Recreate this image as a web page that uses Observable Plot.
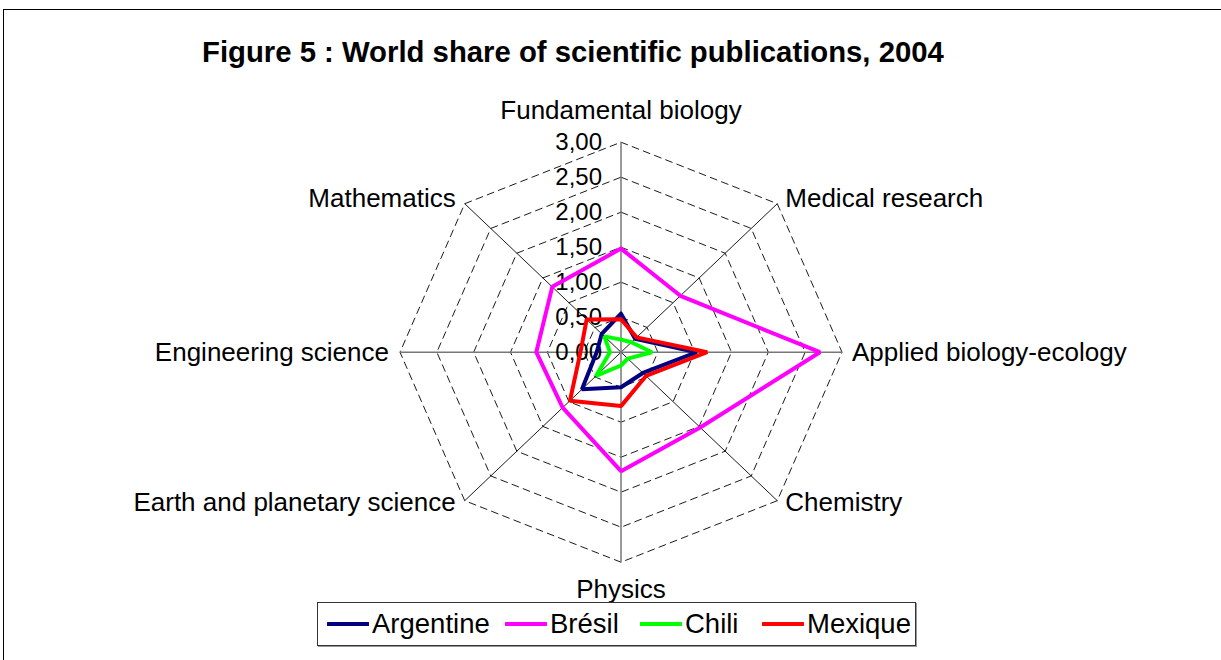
<!DOCTYPE html>
<html><head><meta charset="utf-8">
<script src="https://cdn.jsdelivr.net/npm/d3@7"></script>
<script src="https://cdn.jsdelivr.net/npm/@observablehq/plot@0.6"></script>
<style>
body{margin:0;background:#fff;font-family:"Liberation Sans",Arial,sans-serif;}
#wrap{position:relative;width:1221px;height:660px;overflow:hidden;background:#fff;}
#frame{position:absolute;left:3px;top:9px;width:1300px;height:700px;border:1px solid #000;}
#title{position:absolute;left:202px;top:37px;font-size:29.3px;font-weight:bold;line-height:29px;white-space:nowrap;color:#000;}
#chart{position:absolute;left:0;top:80px;}
#legend{position:absolute;left:317px;top:602px;width:597px;height:42px;border:1px solid #333;box-shadow:1px 1px 0 #999;font-size:27.5px;color:#000;background:#fff;}
#legend .item{position:absolute;top:0;height:42px;display:flex;align-items:center;white-space:nowrap;}
#legend svg{margin-right:3px;}
</style></head>
<body>
<div id="wrap">
<div id="frame"></div>
<div id="title">Figure 5 : World share of scientific publications, 2004</div>
<div id="chart"></div>
<div id="legend"></div>
</div>
<script>
const categories = ["Fundamental biology","Medical research","Applied biology-ecology","Chemistry","Physics","Earth and planetary science","Engineering science","Mathematics"];
const seriesNames = ["Argentine","Brésil","Chili","Mexique"];
const argentine = [0.55, 0.27, 1.03, 0.42, 0.50, 0.75, 0.33, 0.37];
const bresil    = [1.48, 1.14, 2.70, 1.52, 1.70, 1.12, 1.15, 1.32];
const chili     = [0.18, 0.20, 0.42, 0.13, 0.19, 0.48, 0.15, 0.32];
const mexique   = [0.47, 0.30, 1.17, 0.48, 0.77, 0.98, 0.55, 0.66];
const seriesColors = ["#000080","#FF00FF","#00FF00","#FF0000"];
const tickValues = [0, 0.5, 1, 1.5, 2, 2.5, 3];
const tickLabels = ["0,00","0,50","1,00","1,50","2,00","2,50","3,00"];

const seriesValues = [argentine, bresil, chili, mexique];
const n = categories.length;
const maxV = 3;
const ang = i => i * 2 * Math.PI / n;
const px = (r, i) => r * Math.sin(ang(i));
const py = (r, i) => r * Math.cos(ang(i));

const grid = [];
tickValues.filter(v => v > 0).forEach(v => {
  for (let i = 0; i <= n; i++) grid.push({level: v, x: px(v, i % n), y: py(v, i % n)});
});
const spokes = categories.map((c, i) => ({i, x1: 0, y1: 0, x2: px(maxV, i), y2: py(maxV, i)}));
const lines = [];
seriesValues.forEach((vals, s) => {
  for (let i = 0; i <= n; i++) lines.push({series: seriesNames[s], x: px(vals[i % n], i % n), y: py(vals[i % n], i % n)});
});
const labels = categories.map((c, i) => ({name: c, i, x: px(maxV, i), y: py(maxV, i)}));
const ticks = tickValues.map((v, k) => ({v, label: tickLabels[k]}));

const cx = 620.5, rx = 221, cy = 271.7, ry = 210;
const lab = (idx, opts) => Plot.text(labels.filter(d => idx.includes(d.i)), {x: "x", y: "y", text: "name", fontSize: 26, fill: "#000", ...opts});

const chart = Plot.plot({
  width: 1221, height: 520, margin: 0,
  style: {fontFamily: '"Liberation Sans", Arial, sans-serif', background: "transparent", overflow: "visible"},
  x: {domain: [-3, 3], range: [cx - rx, cx + rx], axis: null},
  y: {domain: [-3, 3], range: [cy + ry, cy - ry], axis: null},
  color: {domain: seriesNames, range: seriesColors},
  marks: [
    Plot.line(grid, {x: "x", y: "y", z: "level", stroke: "#000", strokeWidth: 0.9, strokeDasharray: "7,5"}),
    Plot.link(spokes.filter(d => d.i % 2 === 1), {x1: "x1", y1: "y1", x2: "x2", y2: "y2", stroke: "#000", strokeWidth: 0.9}),
    Plot.link(spokes.filter(d => d.i % 2 === 0), {x1: "x1", y1: "y1", x2: "x2", y2: "y2", stroke: "#777", strokeWidth: 1.5}),
    Plot.text(ticks, {x: 0, y: "v", text: "label", textAnchor: "end", dx: -19, fontSize: 24, fill: "#000"}),
    Plot.line(lines, {x: "x", y: "y", z: "series", stroke: "series", strokeWidth: 4, strokeLinejoin: "miter"}),
    lab([0], {textAnchor: "middle", dy: -32}),
    lab([1], {textAnchor: "start", dx: 8, dy: -5}),
    lab([2], {textAnchor: "start", dx: 10, dy: 0}),
    lab([3], {textAnchor: "start", dx: 8, dy: 2}),
    lab([4], {textAnchor: "middle", dy: 27}),
    lab([5], {textAnchor: "end", dx: -9, dy: 2}),
    lab([6], {textAnchor: "end", dx: -11, dy: 0}),
    lab([7], {textAnchor: "end", dx: -9, dy: -5})
  ]
});
document.getElementById("chart").appendChild(chart);

const legend = document.getElementById("legend");
const itemLefts = [9, 187, 322, 444];
seriesNames.forEach((name, s) => {
  const item = document.createElement("div");
  item.className = "item";
  item.style.left = itemLefts[s] + "px";
  item.innerHTML = `<svg width="42" height="8"><line x1="1" y1="4" x2="41" y2="4" stroke="${seriesColors[s]}" stroke-width="4" stroke-linecap="round"/></svg><span>${name}</span>`;
  legend.appendChild(item);
});
</script>
</body></html>
